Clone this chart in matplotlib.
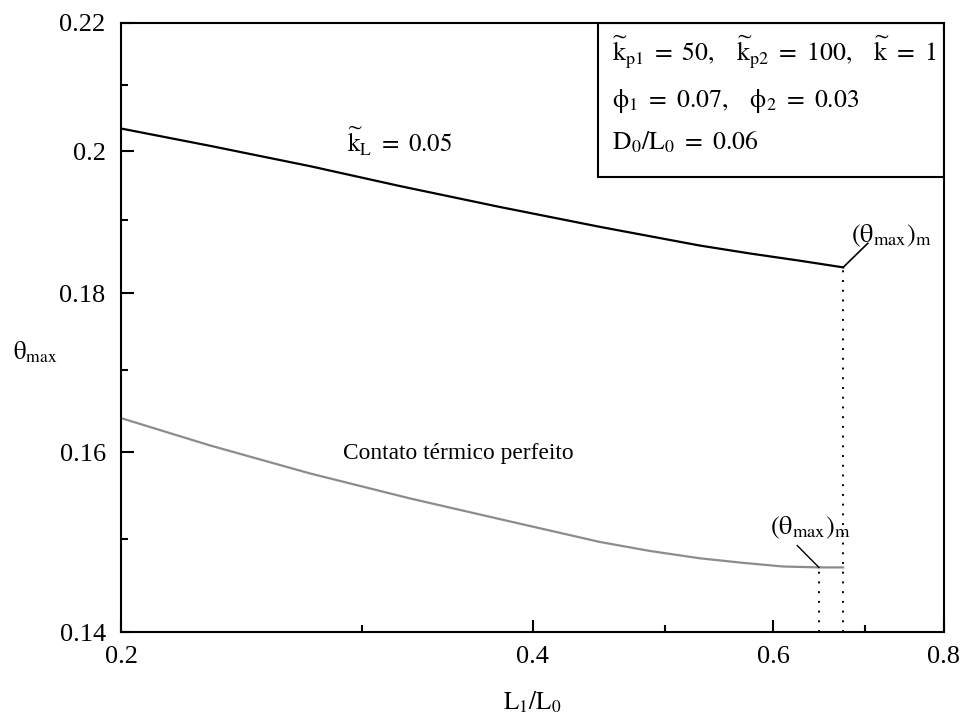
import matplotlib
matplotlib.use("Agg")
import matplotlib.pyplot as plt
from matplotlib.ticker import FixedLocator, FixedFormatter, NullFormatter
from matplotlib.patches import Rectangle

plt.rcParams['font.family'] = ['Liberation Serif', 'DejaVu Serif']
plt.rcParams['mathtext.fontset'] = 'stix'
plt.rcParams['mathtext.default'] = 'rm'

# k_L = 0.05 curve
L_kl = [0.200, 0.2324, 0.275, 0.320, 0.3787, 0.448, 0.530, 0.577, 0.628, 0.675]
theta_kl = [0.2034, 0.2008, 0.1978, 0.1949, 0.1919, 0.1891, 0.1865, 0.1854, 0.1844, 0.1835]

# perfect thermal contact curve
L_perf = [0.200, 0.2324, 0.275, 0.3256, 0.385, 0.448, 0.4876, 0.530, 0.570, 0.610, 0.648, 0.675]
theta_perf = [0.1641, 0.1608, 0.1575, 0.1546, 0.1520, 0.1497, 0.1487, 0.1479, 0.1474, 0.1470, 0.1469, 0.1469]

# optimum points
L_opt_kl, theta_opt_kl = 0.675, 0.1835
L_opt_perf, theta_opt_perf = 0.648, 0.1469

x_major = [0.2, 0.4, 0.6, 0.8]
x_minor = [0.3, 0.5, 0.7]
y_major = [0.14, 0.16, 0.18, 0.20, 0.22]
y_major_labels = ['0.14', '0.16', '0.18', '0.2', '0.22']
y_minor = [0.15, 0.17, 0.19, 0.21]

W, H = 961, 728
fig = plt.figure(figsize=(W / 100, H / 100), dpi=100)
ax = fig.add_axes([121 / W, 1 - 632.3 / H, (944 - 121) / W, (632.3 - 22.7) / H])

ax.plot(L_kl, theta_kl, color='black', lw=1.6)
ax.plot(L_perf, theta_perf, color='#8c8c8c', lw=1.6)

# dotted drop lines at the minima
ax.vlines([L_opt_perf], 0.14, theta_opt_perf, colors='black', linestyles=(0, (1, 4)), lw=1.4)
ax.vlines([L_opt_kl], 0.14, theta_opt_kl, colors='black', linestyles=(0, (1, 4)), lw=1.4)

ax.set_xscale('log')
ax.set_yscale('log')
ax.set_xlim(0.2, 0.8)
ax.set_ylim(0.14, 0.22)

ax.xaxis.set_major_locator(FixedLocator(x_major))
ax.xaxis.set_major_formatter(FixedFormatter([str(v) for v in x_major]))
ax.xaxis.set_minor_locator(FixedLocator(x_minor))
ax.xaxis.set_minor_formatter(NullFormatter())
ax.yaxis.set_major_locator(FixedLocator(y_major))
ax.yaxis.set_major_formatter(FixedFormatter(y_major_labels))
ax.yaxis.set_minor_locator(FixedLocator(y_minor))
ax.yaxis.set_minor_formatter(NullFormatter())

ax.tick_params(which='both', direction='in', top=False, right=False, width=1.5, labelsize=19)
ax.tick_params(which='major', length=9)
ax.tick_params(which='minor', length=5)
ax.tick_params(axis='x', pad=10)
ax.tick_params(axis='y', pad=11)
for sp in ax.spines.values():
    sp.set_linewidth(1.5)

# parameter box
ax.add_patch(Rectangle((0.5796, 0.7469), 1 - 0.5796, 1 - 0.7469, transform=ax.transAxes,
                       fill=False, edgecolor='black', lw=1.5, zorder=5))
box_x = 0.5966
ax.text(box_x, 0.9388,
        r'$\widetilde{\mathrm{k}}_{\mathrm{p1}}\ =\ 50,\ \ \ \widetilde{\mathrm{k}}_{\mathrm{p2}}\ =\ 100,\ \ \ \widetilde{\mathrm{k}}\ =\ 1$',
        transform=ax.transAxes, fontsize=18.5, va='baseline', ha='left')
ax.text(box_x, 0.8619, r'$\phi_1\ =\ 0.07,\ \ \ \phi_2\ =\ 0.03$',
        transform=ax.transAxes, fontsize=18.5, va='baseline', ha='left')
ax.text(box_x, 0.7914, r'$\mathrm{D}_0/\mathrm{L}_0\ =\ 0.06$',
        transform=ax.transAxes, fontsize=18.5, va='baseline', ha='left')

# curve labels
ax.text(0.2926, 0.1999, r'$\widetilde{\mathrm{k}}_{\mathrm{L}}\ =\ 0.05$', fontsize=18,
        ha='left', va='baseline')
ax.text(0.2907, 0.1599, 'Contato térmico perfeito', fontsize=16.8, ha='left', va='center')

opt_label = r'$(\theta_{\mathrm{max}})_{\mathrm{m}}$'
ax.plot([L_opt_kl, 0.7036], [theta_opt_kl, 0.1868], color='black', lw=1.2)
ax.text(0.684, 0.1878, opt_label, fontsize=19, ha='left', va='center')
ax.plot([L_opt_perf, 0.6248], [theta_opt_perf, 0.1493], color='black', lw=1.0)
ax.text(0.597, 0.1513, opt_label, fontsize=19, ha='left', va='center')

# axis titles
fig.text(13 / W, 1 - 352 / H, r'$\theta_{\mathrm{max}}$', fontsize=18, ha='left', va='center')
fig.text(532 / W, 1 - 702 / H, r'$\mathrm{L}_1/\mathrm{L}_0$', fontsize=18, ha='center', va='center')

fig.savefig('out.png', dpi=100)
